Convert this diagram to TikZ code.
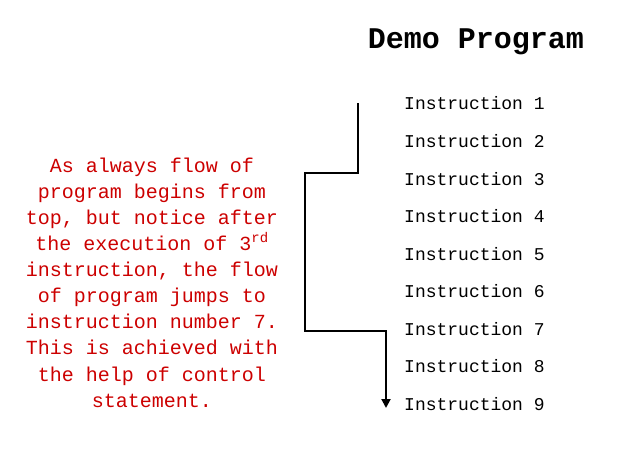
\documentclass[tikz,border=0pt]{standalone}
\usepackage{fontspec}
\setmainfont{Liberation Mono}
\usetikzlibrary{arrows.meta}
\definecolor{notered}{RGB}{204,0,0}
\tikzset{
  instr/.style={anchor=west, inner sep=0pt, font=\fontsize{18}{20}\selectfont},
  flow/.style={line width=2pt, -{Triangle[length=9pt,width=9pt]}},
  note/.style={align=center, text=notered, inner sep=0pt, font=\fontsize{20}{26.1}\selectfont},
  title/.style={font=\fontsize{30}{32}\selectfont\bfseries, inner sep=0pt}
}
\begin{document}
\begin{tikzpicture}[x=1pt,y=-1pt]
\useasboundingbox (0,0) rectangle (629,461);
\node[title] (ttl) at (476,42) {Demo Program};
\foreach \i/\y in {1/103,2/141,3/179,4/216,5/254,6/291,7/329,8/366,9/404}{
  \node[instr] (i\i) at (404,\y) {Instruction \i};
}
\node[note] (txt) at (152,282.5) {As always flow of\\program begins from\\top, but notice after\\the execution of 3\textsuperscript{rd}\\instruction, the flow\\of program jumps to\\instruction number 7.\\This is achieved with\\the help of control\\statement.};
\coordinate (start) at (358,103);
\coordinate (c1) at (358,173);
\coordinate (c2) at (305,173);
\coordinate (c3) at (305,331);
\coordinate (c4) at (386,331);
\coordinate (stop) at (386,408);
\draw[flow] (start) -- (c1) -- (c2) -- (c3) -- (c4) -- (stop);
\end{tikzpicture}
\end{document}
